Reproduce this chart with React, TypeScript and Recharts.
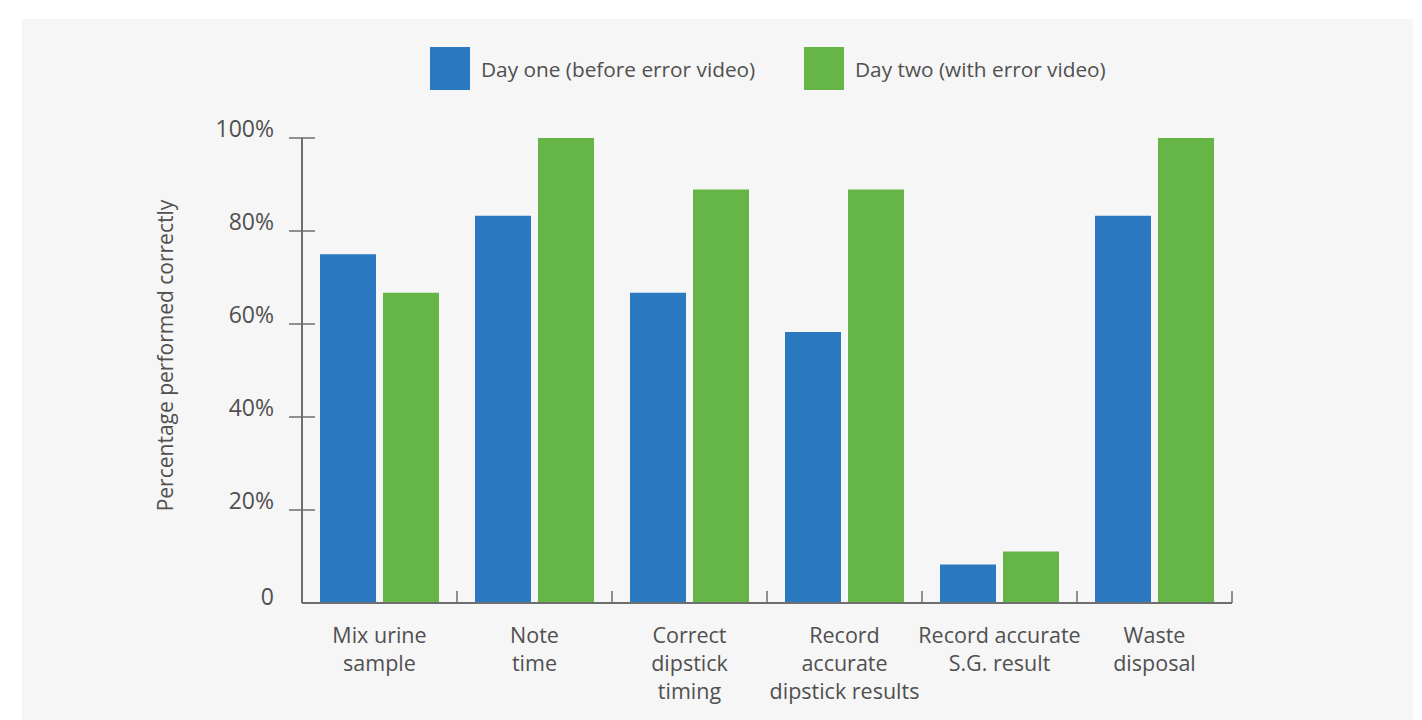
import React from "react";
import { BarChart, Bar, XAxis, YAxis } from "recharts";

// Category labels, one entry per line of text
const categoryLines: string[][] = [
  ["Mix urine", "sample"],
  ["Note", "time"],
  ["Correct", "dipstick", "timing"],
  ["Record", "accurate", "dipstick results"],
  ["Record accurate", "S.G. result"],
  ["Waste", "disposal"],
];

// Percentages
const dayOne = [75, 83.3, 66.7, 58.3, 8.3, 83.3];
const dayTwo = [66.7, 100, 88.9, 88.9, 11.1, 100];

const yTicks = [0, 20, 40, 60, 80, 100];

const series = [
  { key: "dayOne", label: "Day one (before error video)", color: "#2b79c0" },
  { key: "dayTwo", label: "Day two (with error video)", color: "#65b647" },
];

const yLabel = "Percentage performed correctly";

const data = categoryLines.map((lines, i) => ({
  name: lines.join(" "),
  dayOne: dayOne[i],
  dayTwo: dayTwo[i],
}));

const FONT = "'Open Sans', 'Noto Sans', sans-serif";
const TEXT = "#505050";
const AXIS = "#6e6e6e";

const CHART_W = 1422;
const CHART_H = 720;
const MARGIN = { top: 138, right: 190, bottom: 0, left: 0 };
const Y_AXIS_W = 302;
const X_AXIS_H = 117;
const BAND = (CHART_W - MARGIN.left - MARGIN.right - Y_AXIS_W) / categoryLines.length;

const XTick = (props: any) => {
  const { x, y, index } = props;
  const lines = categoryLines[index] || [];
  return (
    <g>
      <line x1={x + BAND / 2} x2={x + BAND / 2} y1={y} y2={y - 12} stroke={AXIS} strokeWidth={1.5} />
      <text textAnchor="middle" fill={TEXT} fontSize={21.5} fontFamily={FONT}>
        {lines.map((l, i) => (
          <tspan key={i} x={x} y={y + 40 + i * 28}>
            {l}
          </tspan>
        ))}
      </text>
    </g>
  );
};

const YTick = (props: any) => {
  const { x, y, payload } = props;
  const v = payload.value;
  return (
    <g>
      {v !== 0 && <line x1={x - 13} x2={x + 13} y1={y} y2={y} stroke={AXIS} strokeWidth={1.5} />}
      <text x={x - 28} y={v === 0 ? y + 2 : y - 1} textAnchor="end" fill={TEXT} fontSize={23} fontFamily={FONT}>
        {v === 0 ? "0" : `${v}%`}
      </text>
    </g>
  );
};

const YLabel = (props: any) => {
  const vb = props.viewBox || { x: 0, y: 0, height: 0 };
  const cx = 173;
  const cy = vb.y + vb.height / 2 - 15;
  return (
    <text
      x={cx}
      y={cy}
      transform={`rotate(-90 ${cx} ${cy})`}
      textAnchor="middle"
      fill={TEXT}
      fontSize={21}
      fontFamily={FONT}
    >
      {yLabel}
    </text>
  );
};

const legendPos = [430, 804];

export default function App() {
  return (
    <div style={{ position: "absolute", left: 0, top: 0, width: CHART_W, height: CHART_H, background: "#fff", overflow: "hidden" }}>
      <div style={{ position: "absolute", left: 22, top: 19, width: 1391, height: 701, background: "#f6f6f6" }} />

      {series.map((s, i) => (
        <div key={s.key} style={{ position: "absolute", left: legendPos[i], top: 47, height: 43, display: "flex", alignItems: "center" }}>
          <div style={{ width: 40, height: 43, background: s.color }} />
          <span style={{ marginLeft: 11, fontFamily: FONT, fontSize: 20.8, color: TEXT, whiteSpace: "nowrap" }}>{s.label}</span>
        </div>
      ))}

      <div style={{ position: "absolute", left: 0, top: 0 }}>
        <BarChart width={CHART_W} height={CHART_H} data={data} margin={MARGIN} barSize={56} barGap={7}>
          <XAxis
            dataKey="name"
            height={X_AXIS_H}
            interval={0}
            tickSize={0}
            tickMargin={0}
            tickLine={false}
            axisLine={{ stroke: AXIS, strokeWidth: 2 }}
            tick={<XTick />}
          />
          <YAxis
            width={Y_AXIS_W}
            domain={[0, 100]}
            ticks={yTicks}
            interval={0}
            tickSize={0}
            tickMargin={0}
            tickLine={false}
            axisLine={{ stroke: AXIS, strokeWidth: 2 }}
            tick={<YTick />}
            label={{ content: <YLabel /> }}
          />
          {series.map((s) => (
            <Bar key={s.key} dataKey={s.key} fill={s.color} isAnimationActive={false} />
          ))}
        </BarChart>
      </div>
    </div>
  );
}
